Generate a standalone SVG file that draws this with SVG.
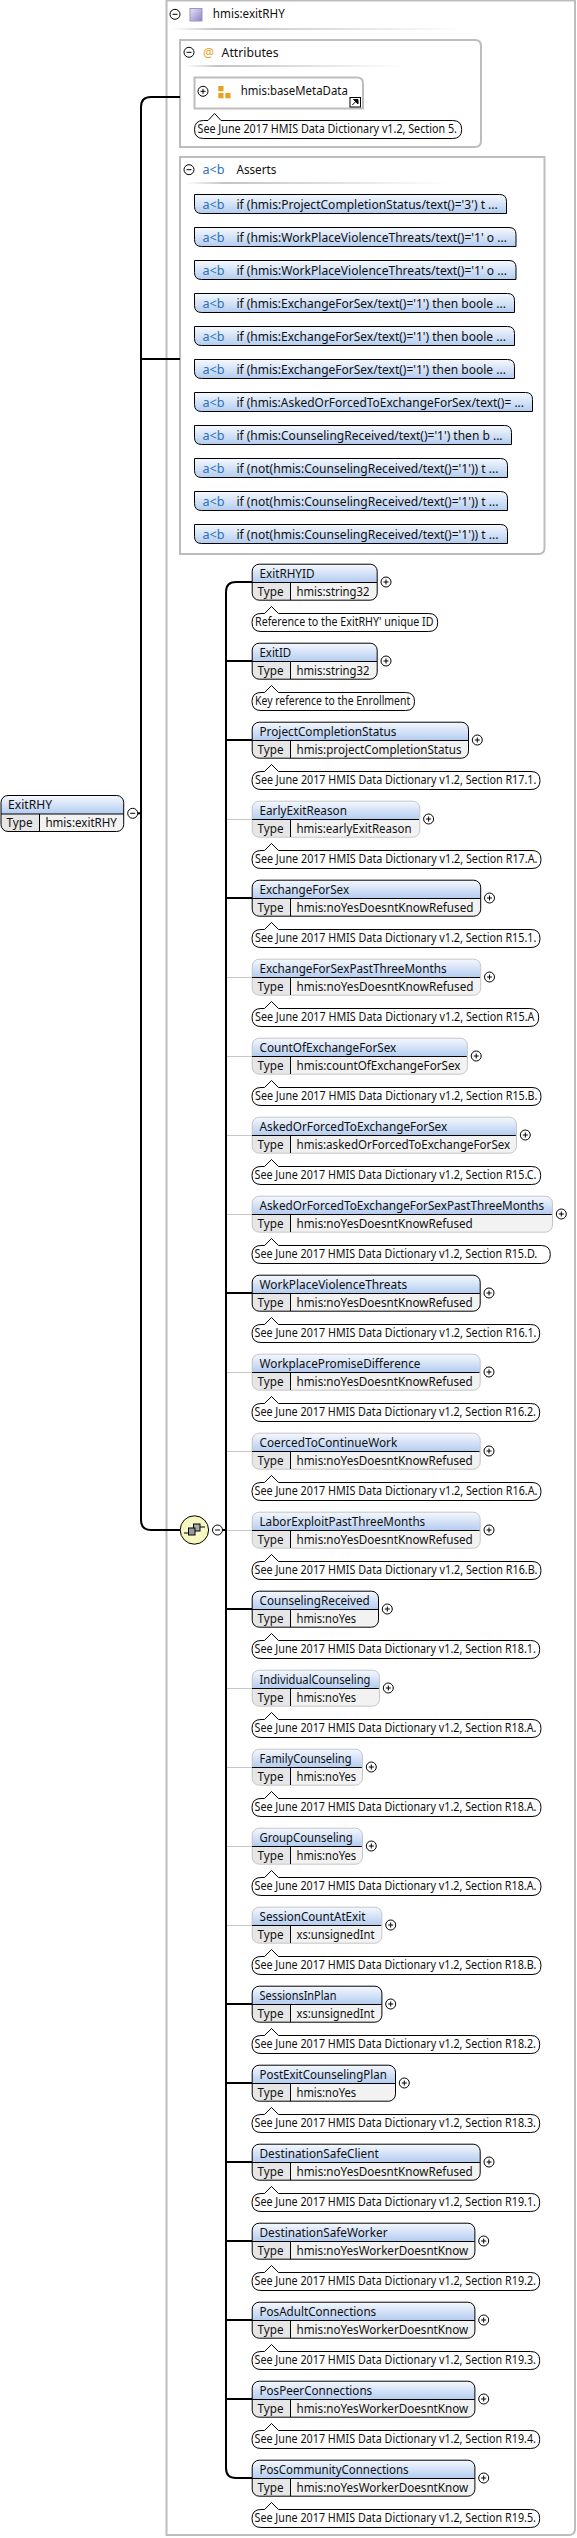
<svg xmlns="http://www.w3.org/2000/svg" width="577" height="2538" viewBox="0 0 577 2538">
<defs>
<linearGradient id="h" x1="0" y1="0" x2="0" y2="1"><stop offset="0" stop-color="#f6f9fe"/><stop offset="1" stop-color="#b3ccf0"/></linearGradient>
<linearGradient id="fade" x1="0" y1="0" x2="1" y2="0"><stop offset="0" stop-color="#c4c4c4" stop-opacity="0"/><stop offset=".15" stop-color="#c4c4c4"/><stop offset="1" stop-color="#c4c4c4" stop-opacity="0"/></linearGradient>
<linearGradient id="ct" x1="0" y1="0" x2="1" y2="1"><stop offset="0" stop-color="#e8e4f6"/><stop offset="1" stop-color="#8f80c8"/></linearGradient>
<radialGradient id="seq"><stop offset="0" stop-color="#fbfbd8"/><stop offset="1" stop-color="#f5f5b8"/></radialGradient>
<g id="minus"><circle r="5" fill="#fff" stroke="#000"/><path d="M-2.5 0H2.5" stroke="#000"/></g>
<g id="plus"><circle r="5" fill="#fff" stroke="#000"/><path d="M-2.5 0H2.5M0-2.5V2.5" stroke="#000"/></g>
</defs>
<style>
text{font-family:"Noto Sans","Open Sans",sans-serif;font-size:12px;fill:#111}
.box{fill:none;stroke:#000}
.opt .box{stroke:#c6c6c6}
.sep{fill:none;stroke:#000}
.h{fill:url(#h)}
.t{fill:#e6e6e6}
.v{fill:#f2f2f2}
.cm{fill:#fff;stroke:#000}
.ab{fill:#2b72b8}
.fr{fill:none;stroke:#bdbdbd;stroke-width:2}
.cn{fill:none;stroke:#000;stroke-width:2}
.cg{fill:none;stroke:#c6c6c6}
.fd{fill:url(#fade)}
.as{fill:url(#h);stroke:#000}
</style>
<rect width="577" height="2538" fill="#fff"/>

<g id="type-frame">
<path class="fr" d="M166.5 0.5H575V2529Q575 2535 569 2535H166.5Z"/>
<use href="#minus" x="175" y="14.3"/>
<rect x="190" y="8.5" width="12" height="12.5" fill="url(#ct)" stroke="#9c94c4"/>
<text x="212.8" y="18" textLength="72" lengthAdjust="spacingAndGlyphs">hmis:exitRHY</text>
<rect class="fd" x="172" y="28" width="293" height="2"/>
</g>

<g id="attributes">
<path class="fr" d="M180 40H475Q481 40 481 46V141Q481 147 475 147H180Z"/>
<use href="#minus" x="189" y="52.3"/>
<text x="203" y="57" textLength="11" lengthAdjust="spacingAndGlyphs" style="fill:#e8a020">@</text>
<text x="221.6" y="57" textLength="57" lengthAdjust="spacingAndGlyphs">Attributes</text>
<rect class="fd" x="185" y="65" width="220" height="2"/>
</g>
<g id="baseMetaData">
<path class="fr" d="M194.5 77.5H357Q363 77.5 363 83.5V108.5H194.5Z"/>
<use href="#plus" x="203" y="91.3"/>
<path d="M218.3 86h5.2v5.3h-5.2zM218.3 93h5.2v5.3h-5.2zM225.3 93h5.2v5.3h-5.2z" fill="#e8a020"/>
<text x="240.8" y="95" textLength="107" lengthAdjust="spacingAndGlyphs">hmis:baseMetaData</text>
<rect x="350" y="97.5" width="10.5" height="9.5" fill="#fff" stroke="#000"/>
<path d="M352.3 105l4-4M353.5 99.5h4.5v4.5z" fill="#000" stroke="#000"/>
<path class="cm" d="M203.5 120.5H208L214.6 113.5L221 120.5H452.7Q461.7 120.5 461.7 129.5Q461.7 138.5 452.7 138.5H203.5Q194.5 138.5 194.5 129.5Q194.5 120.5 203.5 120.5Z"/>
<text x="197.5" y="133" textLength="259.5" lengthAdjust="spacingAndGlyphs">See June 2017 HMIS Data Dictionary v1.2, Section 5.</text>
</g>

<g id="asserts">
<path class="fr" d="M180 157H544.5V548Q544.5 554 538.5 554H180Z"/>
<use href="#minus" x="189" y="169.7"/>
<text class="ab" x="202.4" y="174" textLength="22" lengthAdjust="spacingAndGlyphs">a&lt;b</text>
<text x="236.4" y="174" textLength="40" lengthAdjust="spacingAndGlyphs">Asserts</text>
<rect class="fd" x="185" y="182" width="265" height="2"/>
</g>
<g id="assert-1"><path class="as" d="M194.5 194.5H499.5Q506.5 194.5 506.5 201.5V213.5H201.5Q194.5 213.5 194.5 206.5Z"/><text class="ab" x="202.4" y="208.5" textLength="22" lengthAdjust="spacingAndGlyphs">a&lt;b</text><text x="236.4" y="208.5" textLength="261.4" lengthAdjust="spacingAndGlyphs">if (hmis:ProjectCompletionStatus/text()='3') t ...</text></g>
<g id="assert-2"><path class="as" d="M194.5 227.5H509Q516 227.5 516 234.5V246.5H201.5Q194.5 246.5 194.5 239.5Z"/><text class="ab" x="202.4" y="241.5" textLength="22" lengthAdjust="spacingAndGlyphs">a&lt;b</text><text x="236.4" y="241.5" textLength="270.6" lengthAdjust="spacingAndGlyphs">if (hmis:WorkPlaceViolenceThreats/text()='1' o ...</text></g>
<g id="assert-3"><path class="as" d="M194.5 260.5H509Q516 260.5 516 267.5V279.5H201.5Q194.5 279.5 194.5 272.5Z"/><text class="ab" x="202.4" y="274.5" textLength="22" lengthAdjust="spacingAndGlyphs">a&lt;b</text><text x="236.4" y="274.5" textLength="270.6" lengthAdjust="spacingAndGlyphs">if (hmis:WorkPlaceViolenceThreats/text()='1' o ...</text></g>
<g id="assert-4"><path class="as" d="M194.5 293.5H507.5Q514.5 293.5 514.5 300.5V312.5H201.5Q194.5 312.5 194.5 305.5Z"/><text class="ab" x="202.4" y="307.5" textLength="22" lengthAdjust="spacingAndGlyphs">a&lt;b</text><text x="236.4" y="307.5" textLength="269.5" lengthAdjust="spacingAndGlyphs">if (hmis:ExchangeForSex/text()='1') then boole ...</text></g>
<g id="assert-5"><path class="as" d="M194.5 326.5H507.5Q514.5 326.5 514.5 333.5V345.5H201.5Q194.5 345.5 194.5 338.5Z"/><text class="ab" x="202.4" y="340.5" textLength="22" lengthAdjust="spacingAndGlyphs">a&lt;b</text><text x="236.4" y="340.5" textLength="269.5" lengthAdjust="spacingAndGlyphs">if (hmis:ExchangeForSex/text()='1') then boole ...</text></g>
<g id="assert-6"><path class="as" d="M194.5 359.5H507.5Q514.5 359.5 514.5 366.5V378.5H201.5Q194.5 378.5 194.5 371.5Z"/><text class="ab" x="202.4" y="373.5" textLength="22" lengthAdjust="spacingAndGlyphs">a&lt;b</text><text x="236.4" y="373.5" textLength="269.5" lengthAdjust="spacingAndGlyphs">if (hmis:ExchangeForSex/text()='1') then boole ...</text></g>
<g id="assert-7"><path class="as" d="M194.5 392.5H525.5Q532.5 392.5 532.5 399.5V411.5H201.5Q194.5 411.5 194.5 404.5Z"/><text class="ab" x="202.4" y="406.5" textLength="22" lengthAdjust="spacingAndGlyphs">a&lt;b</text><text x="236.4" y="406.5" textLength="287.6" lengthAdjust="spacingAndGlyphs">if (hmis:AskedOrForcedToExchangeForSex/text()= ...</text></g>
<g id="assert-8"><path class="as" d="M194.5 425.5H504.5Q511.5 425.5 511.5 432.5V444.5H201.5Q194.5 444.5 194.5 437.5Z"/><text class="ab" x="202.4" y="439.5" textLength="22" lengthAdjust="spacingAndGlyphs">a&lt;b</text><text x="236.4" y="439.5" textLength="266.2" lengthAdjust="spacingAndGlyphs">if (hmis:CounselingReceived/text()='1') then b ...</text></g>
<g id="assert-9"><path class="as" d="M194.5 458.5H500.5Q507.5 458.5 507.5 465.5V477.5H201.5Q194.5 477.5 194.5 470.5Z"/><text class="ab" x="202.4" y="472.5" textLength="22" lengthAdjust="spacingAndGlyphs">a&lt;b</text><text x="236.4" y="472.5" textLength="262.2" lengthAdjust="spacingAndGlyphs">if (not(hmis:CounselingReceived/text()='1')) t ...</text></g>
<g id="assert-10"><path class="as" d="M194.5 491.5H500.5Q507.5 491.5 507.5 498.5V510.5H201.5Q194.5 510.5 194.5 503.5Z"/><text class="ab" x="202.4" y="505.5" textLength="22" lengthAdjust="spacingAndGlyphs">a&lt;b</text><text x="236.4" y="505.5" textLength="262.2" lengthAdjust="spacingAndGlyphs">if (not(hmis:CounselingReceived/text()='1')) t ...</text></g>
<g id="assert-11"><path class="as" d="M194.5 524.5H500.5Q507.5 524.5 507.5 531.5V543.5H201.5Q194.5 543.5 194.5 536.5Z"/><text class="ab" x="202.4" y="538.5" textLength="22" lengthAdjust="spacingAndGlyphs">a&lt;b</text><text x="236.4" y="538.5" textLength="262.2" lengthAdjust="spacingAndGlyphs">if (not(hmis:CounselingReceived/text()='1')) t ...</text></g>

<g id="connectors">
<path class="cn" d="M180 97H151Q141 97 141 107V1520Q141 1530 151 1530H180"/>
<path class="cn" d="M141 359H180"/>
<path class="cn" d="M137.5 813.3H141"/>
<path class="cn" d="M222 1530H226"/>
<path class="cn" d="M252 582H236Q226 582 226 592V2468Q226 2478 236 2478H252"/>
<path class="cn" d="M226 661H252M226 740H252M226 898H252M226 1293H252M226 1609H252M226 2004H252M226 2083H252M226 2162H252M226 2241H252M226 2320H252M226 2399H252"/>
<path class="cg" d="M227 819.5H252M227 977.5H252M227 1056.5H252M227 1135.5H252M227 1214.5H252M227 1372.5H252M227 1451.5H252M227 1530.5H252M227 1688.5H252M227 1767.5H252M227 1846.5H252M227 1925.5H252"/>
</g>

<g id="ExitRHY-root" transform="translate(1,795.5)">
<path class="h" d="M0 18.5V7Q0 0 7 0H115.7Q122.7 0 122.7 7V18.5Z"/><path class="t" d="M0 18.5H38.5V36H7Q0 36 0 29Z"/><path class="v" d="M38.5 18.5H122.7V29Q122.7 36 115.7 36H38.5Z"/>
<rect class="box" width="122.7" height="36" rx="7"/><path class="sep" d="M0 18.5H122.7M38.5 18.5V36"/>
<text x="7" y="13.5" textLength="44" lengthAdjust="spacingAndGlyphs">ExitRHY</text>
<text x="5.6" y="31.5" textLength="26" lengthAdjust="spacingAndGlyphs">Type</text>
<text x="44.4" y="31.5" textLength="71.5" lengthAdjust="spacingAndGlyphs">hmis:exitRHY</text>
</g>
<use id="root-toggle" href="#minus" x="132.7" y="813.3"/>

<g id="sequence">
<circle cx="194.4" cy="1530" r="14.2" fill="url(#seq)" stroke="#000"/>
<path d="M184 1533H188.5M200 1527H205" stroke="#000" fill="none"/>
<rect x="193.5" y="1524" width="6.5" height="7" fill="#aaa" stroke="#000"/>
<rect x="188.5" y="1528" width="6.5" height="7" fill="#999" stroke="#000"/>
<use href="#minus" x="217.5" y="1530"/>
</g>

<g id="ExitRHYID" transform="translate(252,564)">
<path class="h" d="M0 18.5V7Q0 0 7 0H118Q125 0 125 7V18.5Z"/><path class="t" d="M0 18.5H38.5V36H7Q0 36 0 29Z"/><path class="v" d="M38.5 18.5H125V29Q125 36 118 36H38.5Z"/><rect class="box" x=".2" y=".2" width="125" height="36" rx="7"/><path class="sep" d="M0 18.5H125M38.5 18.5V36"/>
<text x="7.5" y="14" textLength="55" lengthAdjust="spacingAndGlyphs">ExitRHYID</text><text x="5.5" y="32" textLength="26" lengthAdjust="spacingAndGlyphs">Type</text><text x="44.5" y="32" textLength="73" lengthAdjust="spacingAndGlyphs">hmis:string32</text>
<use href="#plus" x="134" y="18"/>
<path class="cm" d="M9 49.5H12.5L19.5 42.5L26.5 49.5H176.7Q185.7 49.5 185.7 58.5Q185.7 67.5 176.7 67.5H9Q0 67.5 0 58.5Q0 49.5 9 49.5Z"/>
<text x="3" y="62" textLength="178.5" lengthAdjust="spacingAndGlyphs">Reference to the ExitRHY' unique ID</text>
</g>
<g id="ExitID" transform="translate(252,643)">
<path class="h" d="M0 18.5V7Q0 0 7 0H118Q125 0 125 7V18.5Z"/><path class="t" d="M0 18.5H38.5V36H7Q0 36 0 29Z"/><path class="v" d="M38.5 18.5H125V29Q125 36 118 36H38.5Z"/><rect class="box" x=".2" y=".2" width="125" height="36" rx="7"/><path class="sep" d="M0 18.5H125M38.5 18.5V36"/>
<text x="7.5" y="14" textLength="31.7" lengthAdjust="spacingAndGlyphs">ExitID</text><text x="5.5" y="32" textLength="26" lengthAdjust="spacingAndGlyphs">Type</text><text x="44.5" y="32" textLength="73" lengthAdjust="spacingAndGlyphs">hmis:string32</text>
<use href="#plus" x="134" y="18"/>
<path class="cm" d="M9 49.5H12.5L19.5 42.5L26.5 49.5H153.5Q162.5 49.5 162.5 58.5Q162.5 67.5 153.5 67.5H9Q0 67.5 0 58.5Q0 49.5 9 49.5Z"/>
<text x="3" y="62" textLength="155.2" lengthAdjust="spacingAndGlyphs">Key reference to the Enrollment</text>
</g>
<g id="ProjectCompletionStatus" transform="translate(252,722)">
<path class="h" d="M0 18.5V7Q0 0 7 0H209.3Q216.3 0 216.3 7V18.5Z"/><path class="t" d="M0 18.5H38.5V36H7Q0 36 0 29Z"/><path class="v" d="M38.5 18.5H216.3V29Q216.3 36 209.3 36H38.5Z"/><rect class="box" x=".2" y=".2" width="216.3" height="36" rx="7"/><path class="sep" d="M0 18.5H216.3M38.5 18.5V36"/>
<text x="7.5" y="14" textLength="137" lengthAdjust="spacingAndGlyphs">ProjectCompletionStatus</text><text x="5.5" y="32" textLength="26" lengthAdjust="spacingAndGlyphs">Type</text><text x="44.5" y="32" textLength="165" lengthAdjust="spacingAndGlyphs">hmis:projectCompletionStatus</text>
<use href="#plus" x="225.3" y="18"/>
<path class="cm" d="M9 49.5H12.5L19.5 42.5L26.5 49.5H279Q288 49.5 288 58.5Q288 67.5 279 67.5H9Q0 67.5 0 58.5Q0 49.5 9 49.5Z"/>
<text x="3" y="62" textLength="281.3" lengthAdjust="spacingAndGlyphs">See June 2017 HMIS Data Dictionary v1.2, Section R17.1.</text>
</g>
<g id="EarlyExitReason" class="opt" transform="translate(252,801)">
<path class="h" d="M0 18.5V7Q0 0 7 0H160.6Q167.6 0 167.6 7V18.5Z"/><path class="t" d="M0 18.5H38.5V36H7Q0 36 0 29Z"/><path class="v" d="M38.5 18.5H167.6V29Q167.6 36 160.6 36H38.5Z"/><rect class="box" x=".2" y=".2" width="167.6" height="36" rx="7"/><path class="sep" d="M0 18.5H167M38.5 18.5V36"/>
<text x="7.5" y="14" textLength="87.4" lengthAdjust="spacingAndGlyphs">EarlyExitReason</text><text x="5.5" y="32" textLength="26" lengthAdjust="spacingAndGlyphs">Type</text><text x="44.5" y="32" textLength="115" lengthAdjust="spacingAndGlyphs">hmis:earlyExitReason</text>
<use href="#plus" x="176.6" y="18"/>
<path class="cm" d="M9 49.5H12.5L19.5 42.5L26.5 49.5H280Q289 49.5 289 58.5Q289 67.5 280 67.5H9Q0 67.5 0 58.5Q0 49.5 9 49.5Z"/>
<text x="3" y="62" textLength="282.4" lengthAdjust="spacingAndGlyphs">See June 2017 HMIS Data Dictionary v1.2, Section R17.A.</text>
</g>
<g id="ExchangeForSex" transform="translate(252,880)">
<path class="h" d="M0 18.5V7Q0 0 7 0H221.5Q228.5 0 228.5 7V18.5Z"/><path class="t" d="M0 18.5H38.5V36H7Q0 36 0 29Z"/><path class="v" d="M38.5 18.5H228.5V29Q228.5 36 221.5 36H38.5Z"/><rect class="box" x=".2" y=".2" width="228.5" height="36" rx="7"/><path class="sep" d="M0 18.5H228.5M38.5 18.5V36"/>
<text x="7.5" y="14" textLength="89.6" lengthAdjust="spacingAndGlyphs">ExchangeForSex</text><text x="5.5" y="32" textLength="26" lengthAdjust="spacingAndGlyphs">Type</text><text x="44.5" y="32" textLength="177" lengthAdjust="spacingAndGlyphs">hmis:noYesDoesntKnowRefused</text>
<use href="#plus" x="237.5" y="18"/>
<path class="cm" d="M9 49.5H12.5L19.5 42.5L26.5 49.5H279Q288 49.5 288 58.5Q288 67.5 279 67.5H9Q0 67.5 0 58.5Q0 49.5 9 49.5Z"/>
<text x="3" y="62" textLength="281.3" lengthAdjust="spacingAndGlyphs">See June 2017 HMIS Data Dictionary v1.2, Section R15.1.</text>
</g>
<g id="ExchangeForSexPastThreeMonths" class="opt" transform="translate(252,959)">
<path class="h" d="M0 18.5V7Q0 0 7 0H221.5Q228.5 0 228.5 7V18.5Z"/><path class="t" d="M0 18.5H38.5V36H7Q0 36 0 29Z"/><path class="v" d="M38.5 18.5H228.5V29Q228.5 36 221.5 36H38.5Z"/><rect class="box" x=".2" y=".2" width="228.5" height="36" rx="7"/><path class="sep" d="M0 18.5H228M38.5 18.5V36"/>
<text x="7.5" y="14" textLength="187" lengthAdjust="spacingAndGlyphs">ExchangeForSexPastThreeMonths</text><text x="5.5" y="32" textLength="26" lengthAdjust="spacingAndGlyphs">Type</text><text x="44.5" y="32" textLength="177" lengthAdjust="spacingAndGlyphs">hmis:noYesDoesntKnowRefused</text>
<use href="#plus" x="237.5" y="18"/>
<path class="cm" d="M9 49.5H12.5L19.5 42.5L26.5 49.5H277.7Q286.7 49.5 286.7 58.5Q286.7 67.5 277.7 67.5H9Q0 67.5 0 58.5Q0 49.5 9 49.5Z"/>
<text x="3" y="62" textLength="279.5" lengthAdjust="spacingAndGlyphs">See June 2017 HMIS Data Dictionary v1.2, Section R15.A</text>
</g>
<g id="CountOfExchangeForSex" class="opt" transform="translate(252,1038)">
<path class="h" d="M0 18.5V7Q0 0 7 0H208.2Q215.2 0 215.2 7V18.5Z"/><path class="t" d="M0 18.5H38.5V36H7Q0 36 0 29Z"/><path class="v" d="M38.5 18.5H215.2V29Q215.2 36 208.2 36H38.5Z"/><rect class="box" x=".2" y=".2" width="215.2" height="36" rx="7"/><path class="sep" d="M0 18.5H214.7M38.5 18.5V36"/>
<text x="7.5" y="14" textLength="136.8" lengthAdjust="spacingAndGlyphs">CountOfExchangeForSex</text><text x="5.5" y="32" textLength="26" lengthAdjust="spacingAndGlyphs">Type</text><text x="44.5" y="32" textLength="164" lengthAdjust="spacingAndGlyphs">hmis:countOfExchangeForSex</text>
<use href="#plus" x="224.2" y="18"/>
<path class="cm" d="M9 49.5H12.5L19.5 42.5L26.5 49.5H280Q289 49.5 289 58.5Q289 67.5 280 67.5H9Q0 67.5 0 58.5Q0 49.5 9 49.5Z"/>
<text x="3" y="62" textLength="282.4" lengthAdjust="spacingAndGlyphs">See June 2017 HMIS Data Dictionary v1.2, Section R15.B.</text>
</g>
<g id="AskedOrForcedToExchangeForSex" class="opt" transform="translate(252,1117)">
<path class="h" d="M0 18.5V7Q0 0 7 0H257.3Q264.3 0 264.3 7V18.5Z"/><path class="t" d="M0 18.5H38.5V36H7Q0 36 0 29Z"/><path class="v" d="M38.5 18.5H264.3V29Q264.3 36 257.3 36H38.5Z"/><rect class="box" x=".2" y=".2" width="264.3" height="36" rx="7"/><path class="sep" d="M0 18.5H263.8M38.5 18.5V36"/>
<text x="7.5" y="14" textLength="187.7" lengthAdjust="spacingAndGlyphs">AskedOrForcedToExchangeForSex</text><text x="5.5" y="32" textLength="26" lengthAdjust="spacingAndGlyphs">Type</text><text x="44.5" y="32" textLength="213.7" lengthAdjust="spacingAndGlyphs">hmis:askedOrForcedToExchangeForSex</text>
<use href="#plus" x="273.3" y="18"/>
<path class="cm" d="M9 49.5H12.5L19.5 42.5L26.5 49.5H279.7Q288.7 49.5 288.7 58.5Q288.7 67.5 279.7 67.5H9Q0 67.5 0 58.5Q0 49.5 9 49.5Z"/>
<text x="2.5" y="62" textLength="282" lengthAdjust="spacingAndGlyphs">See June 2017 HMIS Data Dictionary v1.2, Section R15.C.</text>
</g>
<g id="AskedOrForcedToExchangeForSexPastThreeMonths" class="opt" transform="translate(252,1196)">
<path class="h" d="M0 18.5V7Q0 0 7 0H293.3Q300.3 0 300.3 7V18.5Z"/><path class="t" d="M0 18.5H38.5V36H7Q0 36 0 29Z"/><path class="v" d="M38.5 18.5H300.3V29Q300.3 36 293.3 36H38.5Z"/><rect class="box" x=".2" y=".2" width="300.3" height="36" rx="7"/><path class="sep" d="M0 18.5H299.8M38.5 18.5V36"/>
<text x="7.5" y="14" textLength="284.7" lengthAdjust="spacingAndGlyphs">AskedOrForcedToExchangeForSexPastThreeMonths</text><text x="5.5" y="32" textLength="26" lengthAdjust="spacingAndGlyphs">Type</text><text x="44.5" y="32" textLength="176.3" lengthAdjust="spacingAndGlyphs">hmis:noYesDoesntKnowRefused</text>
<use href="#plus" x="309.3" y="18"/>
<path class="cm" d="M9 49.5H12.5L19.5 42.5L26.5 49.5H289.3Q298.3 49.5 298.3 58.5Q298.3 67.5 289.3 67.5H9Q0 67.5 0 58.5Q0 49.5 9 49.5Z"/>
<text x="2.5" y="62" textLength="282.7" lengthAdjust="spacingAndGlyphs">See June 2017 HMIS Data Dictionary v1.2, Section R15.D.</text>
</g>
<g id="WorkPlaceViolenceThreats" transform="translate(252,1275)">
<path class="h" d="M0 18.5V7Q0 0 7 0H221Q228 0 228 7V18.5Z"/><path class="t" d="M0 18.5H38.5V36H7Q0 36 0 29Z"/><path class="v" d="M38.5 18.5H228V29Q228 36 221 36H38.5Z"/><rect class="box" x=".2" y=".2" width="228" height="36" rx="7"/><path class="sep" d="M0 18.5H228M38.5 18.5V36"/>
<text x="7.5" y="14" textLength="147.7" lengthAdjust="spacingAndGlyphs">WorkPlaceViolenceThreats</text><text x="5.5" y="32" textLength="26" lengthAdjust="spacingAndGlyphs">Type</text><text x="44.5" y="32" textLength="176.3" lengthAdjust="spacingAndGlyphs">hmis:noYesDoesntKnowRefused</text>
<use href="#plus" x="237" y="18"/>
<path class="cm" d="M9 49.5H12.5L19.5 42.5L26.5 49.5H278.7Q287.7 49.5 287.7 58.5Q287.7 67.5 278.7 67.5H9Q0 67.5 0 58.5Q0 49.5 9 49.5Z"/>
<text x="2.5" y="62" textLength="282" lengthAdjust="spacingAndGlyphs">See June 2017 HMIS Data Dictionary v1.2, Section R16.1.</text>
</g>
<g id="WorkplacePromiseDifference" class="opt" transform="translate(252,1354)">
<path class="h" d="M0 18.5V7Q0 0 7 0H221Q228 0 228 7V18.5Z"/><path class="t" d="M0 18.5H38.5V36H7Q0 36 0 29Z"/><path class="v" d="M38.5 18.5H228V29Q228 36 221 36H38.5Z"/><rect class="box" x=".2" y=".2" width="228" height="36" rx="7"/><path class="sep" d="M0 18.5H227.5M38.5 18.5V36"/>
<text x="7.5" y="14" textLength="161" lengthAdjust="spacingAndGlyphs">WorkplacePromiseDifference</text><text x="5.5" y="32" textLength="26" lengthAdjust="spacingAndGlyphs">Type</text><text x="44.5" y="32" textLength="176.3" lengthAdjust="spacingAndGlyphs">hmis:noYesDoesntKnowRefused</text>
<use href="#plus" x="237" y="18"/>
<path class="cm" d="M9 49.5H12.5L19.5 42.5L26.5 49.5H278.7Q287.7 49.5 287.7 58.5Q287.7 67.5 278.7 67.5H9Q0 67.5 0 58.5Q0 49.5 9 49.5Z"/>
<text x="2.5" y="62" textLength="281.5" lengthAdjust="spacingAndGlyphs">See June 2017 HMIS Data Dictionary v1.2, Section R16.2.</text>
</g>
<g id="CoercedToContinueWork" class="opt" transform="translate(252,1433)">
<path class="h" d="M0 18.5V7Q0 0 7 0H221Q228 0 228 7V18.5Z"/><path class="t" d="M0 18.5H38.5V36H7Q0 36 0 29Z"/><path class="v" d="M38.5 18.5H228V29Q228 36 221 36H38.5Z"/><rect class="box" x=".2" y=".2" width="228" height="36" rx="7"/><path class="sep" d="M0 18.5H227.5M38.5 18.5V36"/>
<text x="7.5" y="14" textLength="137.7" lengthAdjust="spacingAndGlyphs">CoercedToContinueWork</text><text x="5.5" y="32" textLength="26" lengthAdjust="spacingAndGlyphs">Type</text><text x="44.5" y="32" textLength="176.3" lengthAdjust="spacingAndGlyphs">hmis:noYesDoesntKnowRefused</text>
<use href="#plus" x="237" y="18"/>
<path class="cm" d="M9 49.5H12.5L19.5 42.5L26.5 49.5H280Q289 49.5 289 58.5Q289 67.5 280 67.5H9Q0 67.5 0 58.5Q0 49.5 9 49.5Z"/>
<text x="2.5" y="62" textLength="283" lengthAdjust="spacingAndGlyphs">See June 2017 HMIS Data Dictionary v1.2, Section R16.A.</text>
</g>
<g id="LaborExploitPastThreeMonths" class="opt" transform="translate(252,1512)">
<path class="h" d="M0 18.5V7Q0 0 7 0H221Q228 0 228 7V18.5Z"/><path class="t" d="M0 18.5H38.5V36H7Q0 36 0 29Z"/><path class="v" d="M38.5 18.5H228V29Q228 36 221 36H38.5Z"/><rect class="box" x=".2" y=".2" width="228" height="36" rx="7"/><path class="sep" d="M0 18.5H227.5M38.5 18.5V36"/>
<text x="7.5" y="14" textLength="165.7" lengthAdjust="spacingAndGlyphs">LaborExploitPastThreeMonths</text><text x="5.5" y="32" textLength="26" lengthAdjust="spacingAndGlyphs">Type</text><text x="44.5" y="32" textLength="176.3" lengthAdjust="spacingAndGlyphs">hmis:noYesDoesntKnowRefused</text>
<use href="#plus" x="237" y="18"/>
<path class="cm" d="M9 49.5H12.5L19.5 42.5L26.5 49.5H280Q289 49.5 289 58.5Q289 67.5 280 67.5H9Q0 67.5 0 58.5Q0 49.5 9 49.5Z"/>
<text x="2.5" y="62" textLength="283" lengthAdjust="spacingAndGlyphs">See June 2017 HMIS Data Dictionary v1.2, Section R16.B.</text>
</g>
<g id="CounselingReceived" transform="translate(252,1591)">
<path class="h" d="M0 18.5V7Q0 0 7 0H119.3Q126.3 0 126.3 7V18.5Z"/><path class="t" d="M0 18.5H38.5V36H7Q0 36 0 29Z"/><path class="v" d="M38.5 18.5H126.3V29Q126.3 36 119.3 36H38.5Z"/><rect class="box" x=".2" y=".2" width="126.3" height="36" rx="7"/><path class="sep" d="M0 18.5H126.3M38.5 18.5V36"/>
<text x="7.5" y="14" textLength="110.3" lengthAdjust="spacingAndGlyphs">CounselingReceived</text><text x="5.5" y="32" textLength="26" lengthAdjust="spacingAndGlyphs">Type</text><text x="44.5" y="32" textLength="59.7" lengthAdjust="spacingAndGlyphs">hmis:noYes</text>
<use href="#plus" x="135.3" y="18"/>
<path class="cm" d="M9 49.5H12.5L19.5 42.5L26.5 49.5H278.7Q287.7 49.5 287.7 58.5Q287.7 67.5 278.7 67.5H9Q0 67.5 0 58.5Q0 49.5 9 49.5Z"/>
<text x="2.5" y="62" textLength="281.3" lengthAdjust="spacingAndGlyphs">See June 2017 HMIS Data Dictionary v1.2, Section R18.1.</text>
</g>
<g id="IndividualCounseling" class="opt" transform="translate(252,1670)">
<path class="h" d="M0 18.5V7Q0 0 7 0H120.3Q127.3 0 127.3 7V18.5Z"/><path class="t" d="M0 18.5H38.5V36H7Q0 36 0 29Z"/><path class="v" d="M38.5 18.5H127.3V29Q127.3 36 120.3 36H38.5Z"/><rect class="box" x=".2" y=".2" width="127.3" height="36" rx="7"/><path class="sep" d="M0 18.5H126.8M38.5 18.5V36"/>
<text x="7.5" y="14" textLength="111" lengthAdjust="spacingAndGlyphs">IndividualCounseling</text><text x="5.5" y="32" textLength="26" lengthAdjust="spacingAndGlyphs">Type</text><text x="44.5" y="32" textLength="59.7" lengthAdjust="spacingAndGlyphs">hmis:noYes</text>
<use href="#plus" x="136.3" y="18"/>
<path class="cm" d="M9 49.5H12.5L19.5 42.5L26.5 49.5H280Q289 49.5 289 58.5Q289 67.5 280 67.5H9Q0 67.5 0 58.5Q0 49.5 9 49.5Z"/>
<text x="2.5" y="62" textLength="282" lengthAdjust="spacingAndGlyphs">See June 2017 HMIS Data Dictionary v1.2, Section R18.A.</text>
</g>
<g id="FamilyCounseling" class="opt" transform="translate(252,1749)">
<path class="h" d="M0 18.5V7Q0 0 7 0H103.3Q110.3 0 110.3 7V18.5Z"/><path class="t" d="M0 18.5H38.5V36H7Q0 36 0 29Z"/><path class="v" d="M38.5 18.5H110.3V29Q110.3 36 103.3 36H38.5Z"/><rect class="box" x=".2" y=".2" width="110.3" height="36" rx="7"/><path class="sep" d="M0 18.5H109.8M38.5 18.5V36"/>
<text x="7.5" y="14" textLength="92" lengthAdjust="spacingAndGlyphs">FamilyCounseling</text><text x="5.5" y="32" textLength="26" lengthAdjust="spacingAndGlyphs">Type</text><text x="44.5" y="32" textLength="59.7" lengthAdjust="spacingAndGlyphs">hmis:noYes</text>
<use href="#plus" x="119.3" y="18"/>
<path class="cm" d="M9 49.5H12.5L19.5 42.5L26.5 49.5H280Q289 49.5 289 58.5Q289 67.5 280 67.5H9Q0 67.5 0 58.5Q0 49.5 9 49.5Z"/>
<text x="2.5" y="62" textLength="282" lengthAdjust="spacingAndGlyphs">See June 2017 HMIS Data Dictionary v1.2, Section R18.A.</text>
</g>
<g id="GroupCounseling" class="opt" transform="translate(252,1828)">
<path class="h" d="M0 18.5V7Q0 0 7 0H103.3Q110.3 0 110.3 7V18.5Z"/><path class="t" d="M0 18.5H38.5V36H7Q0 36 0 29Z"/><path class="v" d="M38.5 18.5H110.3V29Q110.3 36 103.3 36H38.5Z"/><rect class="box" x=".2" y=".2" width="110.3" height="36" rx="7"/><path class="sep" d="M0 18.5H109.8M38.5 18.5V36"/>
<text x="7.5" y="14" textLength="93.3" lengthAdjust="spacingAndGlyphs">GroupCounseling</text><text x="5.5" y="32" textLength="26" lengthAdjust="spacingAndGlyphs">Type</text><text x="44.5" y="32" textLength="59.7" lengthAdjust="spacingAndGlyphs">hmis:noYes</text>
<use href="#plus" x="119.3" y="18"/>
<path class="cm" d="M9 49.5H12.5L19.5 42.5L26.5 49.5H280Q289 49.5 289 58.5Q289 67.5 280 67.5H9Q0 67.5 0 58.5Q0 49.5 9 49.5Z"/>
<text x="2.5" y="62" textLength="282" lengthAdjust="spacingAndGlyphs">See June 2017 HMIS Data Dictionary v1.2, Section R18.A.</text>
</g>
<g id="SessionCountAtExit" class="opt" transform="translate(252,1907)">
<path class="h" d="M0 18.5V7Q0 0 7 0H122.7Q129.7 0 129.7 7V18.5Z"/><path class="t" d="M0 18.5H38.5V36H7Q0 36 0 29Z"/><path class="v" d="M38.5 18.5H129.7V29Q129.7 36 122.7 36H38.5Z"/><rect class="box" x=".2" y=".2" width="129.7" height="36" rx="7"/><path class="sep" d="M0 18.5H129.2M38.5 18.5V36"/>
<text x="7.5" y="14" textLength="106" lengthAdjust="spacingAndGlyphs">SessionCountAtExit</text><text x="5.5" y="32" textLength="26" lengthAdjust="spacingAndGlyphs">Type</text><text x="44.5" y="32" textLength="78" lengthAdjust="spacingAndGlyphs">xs:unsignedInt</text>
<use href="#plus" x="138.7" y="18"/>
<path class="cm" d="M9 49.5H12.5L19.5 42.5L26.5 49.5H280Q289 49.5 289 58.5Q289 67.5 280 67.5H9Q0 67.5 0 58.5Q0 49.5 9 49.5Z"/>
<text x="2.5" y="62" textLength="282" lengthAdjust="spacingAndGlyphs">See June 2017 HMIS Data Dictionary v1.2, Section R18.B.</text>
</g>
<g id="SessionsInPlan" transform="translate(252,1986)">
<path class="h" d="M0 18.5V7Q0 0 7 0H122.7Q129.7 0 129.7 7V18.5Z"/><path class="t" d="M0 18.5H38.5V36H7Q0 36 0 29Z"/><path class="v" d="M38.5 18.5H129.7V29Q129.7 36 122.7 36H38.5Z"/><rect class="box" x=".2" y=".2" width="129.7" height="36" rx="7"/><path class="sep" d="M0 18.5H129.7M38.5 18.5V36"/>
<text x="7.5" y="14" textLength="77" lengthAdjust="spacingAndGlyphs">SessionsInPlan</text><text x="5.5" y="32" textLength="26" lengthAdjust="spacingAndGlyphs">Type</text><text x="44.5" y="32" textLength="78" lengthAdjust="spacingAndGlyphs">xs:unsignedInt</text>
<use href="#plus" x="138.7" y="18"/>
<path class="cm" d="M9 49.5H12.5L19.5 42.5L26.5 49.5H278.7Q287.7 49.5 287.7 58.5Q287.7 67.5 278.7 67.5H9Q0 67.5 0 58.5Q0 49.5 9 49.5Z"/>
<text x="2.5" y="62" textLength="281.5" lengthAdjust="spacingAndGlyphs">See June 2017 HMIS Data Dictionary v1.2, Section R18.2.</text>
</g>
<g id="PostExitCounselingPlan" transform="translate(252,2065)">
<path class="h" d="M0 18.5V7Q0 0 7 0H136.3Q143.3 0 143.3 7V18.5Z"/><path class="t" d="M0 18.5H38.5V36H7Q0 36 0 29Z"/><path class="v" d="M38.5 18.5H143.3V29Q143.3 36 136.3 36H38.5Z"/><rect class="box" x=".2" y=".2" width="143.3" height="36" rx="7"/><path class="sep" d="M0 18.5H143.3M38.5 18.5V36"/>
<text x="7.5" y="14" textLength="127.3" lengthAdjust="spacingAndGlyphs">PostExitCounselingPlan</text><text x="5.5" y="32" textLength="26" lengthAdjust="spacingAndGlyphs">Type</text><text x="44.5" y="32" textLength="59.7" lengthAdjust="spacingAndGlyphs">hmis:noYes</text>
<use href="#plus" x="152.3" y="18"/>
<path class="cm" d="M9 49.5H12.5L19.5 42.5L26.5 49.5H278.7Q287.7 49.5 287.7 58.5Q287.7 67.5 278.7 67.5H9Q0 67.5 0 58.5Q0 49.5 9 49.5Z"/>
<text x="2.5" y="62" textLength="281.5" lengthAdjust="spacingAndGlyphs">See June 2017 HMIS Data Dictionary v1.2, Section R18.3.</text>
</g>
<g id="DestinationSafeClient" transform="translate(252,2144)">
<path class="h" d="M0 18.5V7Q0 0 7 0H221Q228 0 228 7V18.5Z"/><path class="t" d="M0 18.5H38.5V36H7Q0 36 0 29Z"/><path class="v" d="M38.5 18.5H228V29Q228 36 221 36H38.5Z"/><rect class="box" x=".2" y=".2" width="228" height="36" rx="7"/><path class="sep" d="M0 18.5H228M38.5 18.5V36"/>
<text x="7.5" y="14" textLength="119.3" lengthAdjust="spacingAndGlyphs">DestinationSafeClient</text><text x="5.5" y="32" textLength="26" lengthAdjust="spacingAndGlyphs">Type</text><text x="44.5" y="32" textLength="176.3" lengthAdjust="spacingAndGlyphs">hmis:noYesDoesntKnowRefused</text>
<use href="#plus" x="237" y="18"/>
<path class="cm" d="M9 49.5H12.5L19.5 42.5L26.5 49.5H278.7Q287.7 49.5 287.7 58.5Q287.7 67.5 278.7 67.5H9Q0 67.5 0 58.5Q0 49.5 9 49.5Z"/>
<text x="2.5" y="62" textLength="281.5" lengthAdjust="spacingAndGlyphs">See June 2017 HMIS Data Dictionary v1.2, Section R19.1.</text>
</g>
<g id="DestinationSafeWorker" transform="translate(252,2223)">
<path class="h" d="M0 18.5V7Q0 0 7 0H215.7Q222.7 0 222.7 7V18.5Z"/><path class="t" d="M0 18.5H38.5V36H7Q0 36 0 29Z"/><path class="v" d="M38.5 18.5H222.7V29Q222.7 36 215.7 36H38.5Z"/><rect class="box" x=".2" y=".2" width="222.7" height="36" rx="7"/><path class="sep" d="M0 18.5H222.7M38.5 18.5V36"/>
<text x="7.5" y="14" textLength="128" lengthAdjust="spacingAndGlyphs">DestinationSafeWorker</text><text x="5.5" y="32" textLength="26" lengthAdjust="spacingAndGlyphs">Type</text><text x="44.5" y="32" textLength="171.7" lengthAdjust="spacingAndGlyphs">hmis:noYesWorkerDoesntKnow</text>
<use href="#plus" x="231.7" y="18"/>
<path class="cm" d="M9 49.5H12.5L19.5 42.5L26.5 49.5H278.7Q287.7 49.5 287.7 58.5Q287.7 67.5 278.7 67.5H9Q0 67.5 0 58.5Q0 49.5 9 49.5Z"/>
<text x="2.5" y="62" textLength="281.5" lengthAdjust="spacingAndGlyphs">See June 2017 HMIS Data Dictionary v1.2, Section R19.2.</text>
</g>
<g id="PosAdultConnections" transform="translate(252,2302)">
<path class="h" d="M0 18.5V7Q0 0 7 0H215.7Q222.7 0 222.7 7V18.5Z"/><path class="t" d="M0 18.5H38.5V36H7Q0 36 0 29Z"/><path class="v" d="M38.5 18.5H222.7V29Q222.7 36 215.7 36H38.5Z"/><rect class="box" x=".2" y=".2" width="222.7" height="36" rx="7"/><path class="sep" d="M0 18.5H222.7M38.5 18.5V36"/>
<text x="7.5" y="14" textLength="116.7" lengthAdjust="spacingAndGlyphs">PosAdultConnections</text><text x="5.5" y="32" textLength="26" lengthAdjust="spacingAndGlyphs">Type</text><text x="44.5" y="32" textLength="171.7" lengthAdjust="spacingAndGlyphs">hmis:noYesWorkerDoesntKnow</text>
<use href="#plus" x="231.7" y="18"/>
<path class="cm" d="M9 49.5H12.5L19.5 42.5L26.5 49.5H278.7Q287.7 49.5 287.7 58.5Q287.7 67.5 278.7 67.5H9Q0 67.5 0 58.5Q0 49.5 9 49.5Z"/>
<text x="2.5" y="62" textLength="281.5" lengthAdjust="spacingAndGlyphs">See June 2017 HMIS Data Dictionary v1.2, Section R19.3.</text>
</g>
<g id="PosPeerConnections" transform="translate(252,2381)">
<path class="h" d="M0 18.5V7Q0 0 7 0H215.7Q222.7 0 222.7 7V18.5Z"/><path class="t" d="M0 18.5H38.5V36H7Q0 36 0 29Z"/><path class="v" d="M38.5 18.5H222.7V29Q222.7 36 215.7 36H38.5Z"/><rect class="box" x=".2" y=".2" width="222.7" height="36" rx="7"/><path class="sep" d="M0 18.5H222.7M38.5 18.5V36"/>
<text x="7.5" y="14" textLength="112.7" lengthAdjust="spacingAndGlyphs">PosPeerConnections</text><text x="5.5" y="32" textLength="26" lengthAdjust="spacingAndGlyphs">Type</text><text x="44.5" y="32" textLength="171.7" lengthAdjust="spacingAndGlyphs">hmis:noYesWorkerDoesntKnow</text>
<use href="#plus" x="231.7" y="18"/>
<path class="cm" d="M9 49.5H12.5L19.5 42.5L26.5 49.5H278.7Q287.7 49.5 287.7 58.5Q287.7 67.5 278.7 67.5H9Q0 67.5 0 58.5Q0 49.5 9 49.5Z"/>
<text x="2.5" y="62" textLength="281.5" lengthAdjust="spacingAndGlyphs">See June 2017 HMIS Data Dictionary v1.2, Section R19.4.</text>
</g>
<g id="PosCommunityConnections" transform="translate(252,2460)">
<path class="h" d="M0 18.5V7Q0 0 7 0H215.7Q222.7 0 222.7 7V18.5Z"/><path class="t" d="M0 18.5H38.5V36H7Q0 36 0 29Z"/><path class="v" d="M38.5 18.5H222.7V29Q222.7 36 215.7 36H38.5Z"/><rect class="box" x=".2" y=".2" width="222.7" height="36" rx="7"/><path class="sep" d="M0 18.5H222.7M38.5 18.5V36"/>
<text x="7.5" y="14" textLength="149" lengthAdjust="spacingAndGlyphs">PosCommunityConnections</text><text x="5.5" y="32" textLength="26" lengthAdjust="spacingAndGlyphs">Type</text><text x="44.5" y="32" textLength="171.7" lengthAdjust="spacingAndGlyphs">hmis:noYesWorkerDoesntKnow</text>
<use href="#plus" x="231.7" y="18"/>
<path class="cm" d="M9 49.5H12.5L19.5 42.5L26.5 49.5H278.7Q287.7 49.5 287.7 58.5Q287.7 67.5 278.7 67.5H9Q0 67.5 0 58.5Q0 49.5 9 49.5Z"/>
<text x="2.5" y="62" textLength="281.5" lengthAdjust="spacingAndGlyphs">See June 2017 HMIS Data Dictionary v1.2, Section R19.5.</text>
</g>
</svg>
